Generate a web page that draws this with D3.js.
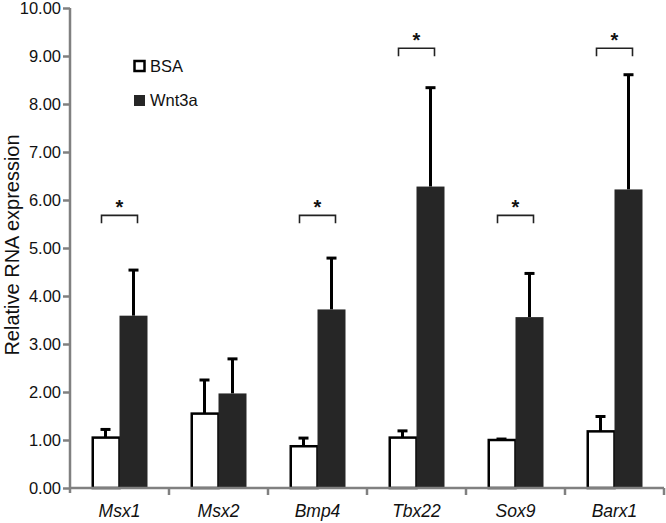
<!DOCTYPE html>
<html>
<head>
<meta charset="utf-8">
<script src="https://cdn.jsdelivr.net/npm/d3@7"></script>
<style>
  html, body { margin: 0; padding: 0; background: #fff; }
  svg { display: block; font-family: Arial, "Liberation Sans", Helvetica, sans-serif; }
</style>
</head>
<body>
<svg id="chart" width="666" height="523"></svg>
<script>
const categories = ["Msx1", "Msx2", "Bmp4", "Tbx22", "Sox9", "Barx1"];
const seriesNames = ["BSA", "Wnt3a"];
const bsaValues = [1.05, 1.55, 0.87, 1.05, 1.00, 1.18];
const bsaErrors = [0.17, 0.70, 0.17, 0.14, 0.02, 0.31];
const wntValues = [3.59, 1.97, 3.72, 6.28, 3.56, 6.22];
const wntErrors = [0.95, 0.72, 1.07, 2.06, 0.91, 2.39];
const yTicks = [0, 1, 2, 3, 4, 5, 6, 7, 8, 9, 10];
const significance = [
  { cat: "Msx1", level: 5.68 },
  { cat: "Bmp4", level: 5.68 },
  { cat: "Tbx22", level: 9.16 },
  { cat: "Sox9", level: 5.68 },
  { cat: "Barx1", level: 9.16 }
];

const svg = d3.select("#chart");
const mLeft = 70, mRight = 664, mTop = 8, mBottom = 488;
const axisColor = "#808080";
const darkFill = "#262626";

const x = d3.scaleBand().domain(categories).range([mLeft, mRight]).paddingInner(0).paddingOuter(0);
const sub = d3.scaleBand().domain(seriesNames).range([0, 56]);
const groupOffset = (x.bandwidth() - 56) / 2;
const y = d3.scaleLinear().domain([0, 10]).range([mBottom, mTop]);

const data = categories.map((c, i) => [
  { cat: c, s: "BSA", v: bsaValues[i], e: bsaErrors[i] },
  { cat: c, s: "Wnt3a", v: wntValues[i], e: wntErrors[i] }
]).flat();

// Error bars
const eg = svg.append("g");
data.forEach(d => {
  const cx = x(d.cat) + groupOffset + sub(d.s) + sub.bandwidth() / 2;
  eg.append("line").attr("x1", cx).attr("x2", cx)
    .attr("y1", y(d.v)).attr("y2", y(d.v + d.e))
    .attr("stroke", "#000").attr("stroke-width", 3);
  eg.append("line").attr("x1", cx - 5).attr("x2", cx + 5)
    .attr("y1", y(d.v + d.e)).attr("y2", y(d.v + d.e))
    .attr("stroke", "#000").attr("stroke-width", 3);
});

// Bars
svg.append("g").selectAll("rect").data(data).join("rect")
  .attr("x", d => x(d.cat) + groupOffset + sub(d.s) + (d.s === "BSA" ? 1.25 : 0))
  .attr("y", d => y(d.v))
  .attr("width", d => sub.bandwidth() - (d.s === "BSA" ? 1.25 : 0))
  .attr("height", d => y(0) - y(d.v))
  .attr("fill", d => d.s === "BSA" ? "#fff" : darkFill)
  .attr("stroke", d => d.s === "BSA" ? "#000" : "none")
  .attr("stroke-width", 2.5);

// Y axis
const yAxis = svg.append("g").attr("transform", `translate(${mLeft},0)`)
  .call(d3.axisLeft(y).tickValues(yTicks).tickFormat(d3.format(".2f")).tickSize(7).tickPadding(2));
yAxis.select(".domain").attr("stroke", axisColor).attr("stroke-width", 2.5)
  .attr("d", `M0,${mTop}V${mBottom + 5}`);
yAxis.selectAll(".tick line").attr("stroke", axisColor).attr("stroke-width", 2.5);
yAxis.selectAll(".tick text").attr("fill", "#111").attr("font-size", "16.5px")
  .attr("font-family", "Arial, 'Liberation Sans', sans-serif");

// X axis
const xAxis = svg.append("g").attr("transform", `translate(0,${mBottom})`);
xAxis.append("line").attr("x1", mLeft).attr("x2", mRight).attr("y1", 0).attr("y2", 0)
  .attr("stroke", axisColor).attr("stroke-width", 2.5);
const boundaries = categories.map(c => x(c) + x.bandwidth());
xAxis.selectAll("line.tk").data(boundaries).join("line").attr("class", "tk")
  .attr("x1", d => d).attr("x2", d => d).attr("y1", 0).attr("y2", 7)
  .attr("stroke", axisColor).attr("stroke-width", 2.5);
xAxis.selectAll("text").data(categories).join("text")
  .attr("x", d => x(d) + x.bandwidth() / 2)
  .attr("y", 29)
  .attr("text-anchor", "middle")
  .attr("font-size", "17.5px")
  .attr("font-style", "italic")
  .attr("fill", "#111")
  .text(d => d);

// Y axis title
svg.append("text")
  .attr("transform", `translate(18.5,245) rotate(-90)`)
  .attr("text-anchor", "middle")
  .attr("font-size", "20px")
  .attr("fill", "#111")
  .text("Relative RNA expression");

// Significance brackets
const sg = svg.append("g");
significance.forEach(s => {
  const cx = x(s.cat) + x.bandwidth() / 2;
  const yy = y(s.level);
  sg.append("path")
    .attr("d", `M${cx - 18},${yy + 8}V${yy}H${cx + 18}V${yy + 8}`)
    .attr("fill", "none").attr("stroke", "#222").attr("stroke-width", 1.6);
  sg.append("text").attr("x", cx).attr("y", yy - 1)
    .attr("text-anchor", "middle").attr("font-size", "20px").attr("font-weight", "bold").attr("fill", "#111")
    .text("*");
});

// Legend
const lg = svg.append("g");
lg.append("rect").attr("x", 134.5).attr("y", 61).attr("width", 10).attr("height", 10)
  .attr("fill", "#fff").attr("stroke", "#000").attr("stroke-width", 2.5);
lg.append("text").attr("x", 150).attr("y", 71.5).attr("font-size", "16.5px").attr("fill", "#111").text(seriesNames[0]);
lg.append("rect").attr("x", 134).attr("y", 95).attr("width", 11).attr("height", 11)
  .attr("fill", darkFill);
lg.append("text").attr("x", 150).attr("y", 106).attr("font-size", "16.5px").attr("fill", "#111").text(seriesNames[1]);
</script>
</body>
</html>
